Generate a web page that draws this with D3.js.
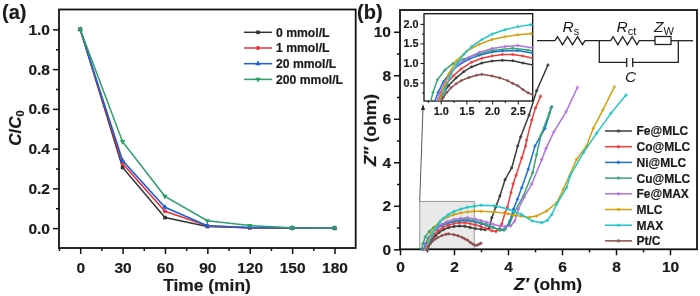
<!DOCTYPE html>
<html>
<head>
<meta charset="utf-8">
<script src="https://cdn.jsdelivr.net/npm/d3@7"></script>
<style>
  html, body { margin: 0; padding: 0; background: #fff; }
  svg { display: block; filter: blur(0.35px); }
  text { font-family: "Liberation Sans", Arial, sans-serif; font-weight: bold; fill: #1a1a1a; stroke: #1a1a1a; stroke-width: 0.2px; }
</style>
</head>
<body>
<svg id="chart" width="700" height="296"></svg>
<script>
// Panel (a): degradation curves
var times = [0, 30, 60, 90, 120, 150, 180];
var conc0 = [1, 0.305, 0.053, 0.008, 0.002, 0, 0];
var conc1 = [1, 0.325, 0.085, 0.012, 0.001, 0, 0];
var conc20 = [1, 0.34, 0.105, 0.012, 0.003, 0.001, 0];
var conc200 = [1, 0.435, 0.16, 0.037, 0.013, 0.002, 0];
var concLabels = ["0 mmol/L", "1 mmol/L", "20 mmol/L", "200 mmol/L"];
var concColors = ["#333333", "#ee2f3a", "#1562dc", "#2f9f68"];

// Panel (b): Nyquist curves, [Z', Z'']
var feMlc = [[0.98,0],[1.05,0.22],[1.15,0.42],[1.3,0.62],[1.45,0.78],[1.6,0.9],[1.8,1.0],[2,1.05],[2.2,1.07],[2.4,1.06],[2.6,1.0],[2.8,0.95],[3,0.92],[3.15,0.9],[3.3,0.95],[3.4,1.45],[3.55,1.95],[3.7,2.45],[3.89,3.2],[4.14,3.75],[4.36,4.75],[4.47,5.17],[4.78,6.17],[5.06,7.29],[5.48,8.47]];
var coMlc = [[0.95,0],[1.02,0.25],[1.12,0.48],[1.25,0.68],[1.4,0.85],[1.6,1.02],[1.8,1.12],[2,1.18],[2.2,1.22],[2.4,1.22],[2.6,1.18],[2.8,1.12],[3,1.05],[3.2,0.95],[3.4,0.85],[3.55,0.82],[3.68,0.92],[3.77,1.16],[3.89,1.68],[3.98,1.95],[4.11,2.6],[4.19,3.0],[4.3,3.4],[4.51,4.2],[4.65,4.75],[4.69,5.02],[4.88,5.94],[5.02,6.5],[5.21,7.04]];
var niMlc = [[0.88,0],[0.95,0.25],[1.05,0.52],[1.18,0.75],[1.35,0.95],[1.55,1.1],[1.75,1.2],[2,1.28],[2.2,1.31],[2.5,1.32],[2.8,1.25],[3,1.18],[3.2,1.1],[3.45,1.0],[3.7,0.9],[3.9,0.95],[4.07,1.3],[4.2,1.84],[4.35,2.3],[4.51,2.83],[4.75,3.68],[5.0,4.75],[5.37,5.56],[5.62,6.55]];
var cuMlc = [[0.8,0],[0.85,0.25],[0.935,0.57],[1.08,0.82],[1.24,0.99],[1.45,1.1],[1.7,1.22],[2,1.32],[2.4,1.38],[2.7,1.33],[3,1.22],[3.2,1.15],[3.45,1.0],[3.7,0.88],[3.85,0.88],[4.05,1.15],[4.25,1.75],[4.57,2.45],[4.91,3.52],[5.06,4.35],[5.22,5.25],[5.53,6.25],[5.59,6.5]];
var feMax = [[0.92,0],[0.98,0.22],[1.08,0.5],[1.2,0.75],[1.35,0.98],[1.55,1.15],[1.75,1.27],[2,1.37],[2.25,1.42],[2.5,1.45],[2.8,1.38],[3,1.32],[3.2,1.25],[3.45,1.15],[3.7,1.07],[3.9,1.05],[4.1,1.07],[4.25,1.3],[4.38,1.84],[4.6,2.4],[4.88,3.0],[5.25,4.13],[5.41,4.64],[5.7,5.4],[6.15,6.32],[6.57,7.44]];
var mlc = [[0.97,0],[1.05,0.35],[1.15,0.7],[1.3,1.05],[1.5,1.3],[1.75,1.48],[2,1.6],[2.25,1.67],[2.5,1.72],[2.75,1.75],[3,1.75],[3.5,1.72],[4,1.63],[4.25,1.57],[4.5,1.52],[4.8,1.47],[5.06,1.53],[5.43,1.76],[5.8,2.14],[6.05,2.76],[6.54,4.13],[6.91,4.75],[7.16,5.56],[7.51,6.4],[7.94,7.47]];
var max = [[1.0,0],[1.08,0.32],[1.18,0.65],[1.3,0.95],[1.45,1.22],[1.6,1.42],[1.8,1.6],[2,1.74],[2.25,1.85],[2.5,1.93],[2.75,1.98],[3,2.03],[3.5,2],[4,1.85],[4.5,1.6],[4.9,1.3],[5.25,1.22],[5.45,1.32],[5.62,1.6],[5.8,2.07],[6.17,2.83],[6.3,3.37],[6.79,4.44],[7.28,5.33],[7.81,6.25],[8.37,7.09]];
var ptC = [[1.0,0],[1.05,0.12],[1.12,0.25],[1.2,0.37],[1.3,0.47],[1.4,0.55],[1.55,0.63],[1.7,0.69],[1.8,0.71],[2,0.67],[2.15,0.62],[2.3,0.55],[2.4,0.48],[2.5,0.42],[2.6,0.32],[2.7,0.24],[2.8,0.18],[2.88,0.2],[2.95,0.25],[3,0.28]];
var nyquistLabels = ["Fe@MLC", "Co@MLC", "Ni@MLC", "Cu@MLC", "Fe@MAX", "MLC", "MAX", "Pt/C"];
var nyquistColors = ["#3a3a3a", "#ee3b3b", "#1c6fd2", "#37a56f", "#b071e0", "#d3a012", "#1fc6c8", "#8c4b4b"];

var svg = d3.select("#chart");
var ink = "#111";

// Draws the boxed frame, both axes with major and minor ticks.
function drawFrame(x, y, xMajor, xMinor, yMajor, yMinor, opts) {
  var left = x.range()[0], right = x.range()[1];
  var bottom = y.range()[0], top = y.range()[1];
  var fmtY = opts.fmtY;
  var g = svg.append("g");

  g.append("rect")
    .attr("x", left).attr("y", top)
    .attr("width", right - left).attr("height", bottom - top)
    .attr("fill", opts.fill || "none")
    .attr("stroke", ink).attr("stroke-width", opts.frame);

  var gxMinor = g.append("g").attr("transform", "translate(0," + bottom + ")")
    .call(d3.axisBottom(x).tickValues(xMinor).tickSize(opts.minor).tickFormat(""));
  var gx = g.append("g").attr("transform", "translate(0," + bottom + ")")
    .call(d3.axisBottom(x).tickValues(xMajor).tickSize(opts.major).tickPadding(opts.padX));
  var gyMinor = g.append("g").attr("transform", "translate(" + left + ",0)")
    .call(d3.axisLeft(y).tickValues(yMinor).tickSize(opts.minor).tickFormat(""));
  var gy = g.append("g").attr("transform", "translate(" + left + ",0)")
    .call(d3.axisLeft(y).tickValues(yMajor).tickSize(opts.major).tickPadding(opts.padY).tickFormat(fmtY));

  [gxMinor, gx, gyMinor, gy].forEach(function(a) {
    a.select(".domain").remove();
    a.selectAll("line").attr("stroke", ink).attr("stroke-width", opts.tick);
    a.selectAll("text").style("font-size", opts.font + "px").style("fill", "#1a1a1a");
  });
}

// ---------- panel (a) ----------
var xA = d3.scaleLinear().domain([-15, 195]).range([59, 355.7]);
var yA = d3.scaleLinear().domain([-0.1, 1.1]).range([248, 9.5]);
var lineA = d3.line()
  .x(function(d) { return xA(d.t); })
  .y(function(d) { return yA(d.c); });

drawFrame(xA, yA,
  [0, 30, 60, 90, 120, 150, 180],
  [-15, 15, 45, 75, 105, 135, 165],
  [0, 0.2, 0.4, 0.6, 0.8, 1.0],
  [0.1, 0.3, 0.5, 0.7, 0.9],
  {fmtY: d3.format(".1f"), frame: 1.8, tick: 1.5, major: 6, minor: 3, padX: 8, padY: 3, font: 15.5});

var concSeries = [conc0, conc1, conc20, conc200];
var concMarks = [d3.symbolSquare, d3.symbolCircle, d3.symbolTriangle, d3.symbolTriangle];
concSeries.forEach(function(vals, i) {
  var pts = vals.map(function(c, k) { return {t: times[k], c: c}; });
  svg.append("path").datum(pts)
    .attr("d", lineA).attr("fill", "none")
    .attr("stroke", concColors[i]).attr("stroke-width", 1.5);
  svg.append("g").selectAll("path").data(pts).join("path")
    .attr("d", d3.symbol().type(concMarks[i]).size(13))
    .attr("transform", function(d) {
      return "translate(" + xA(d.t) + "," + yA(d.c) + ")" + (i == 3 ? " rotate(180)" : "");
    })
    .attr("fill", concColors[i]);
  // legend
  var ly = 32.3 + i * 15.7;
  svg.append("line").attr("x1", 244).attr("x2", 272).attr("y1", ly).attr("y2", ly)
    .attr("stroke", concColors[i]).attr("stroke-width", 1.5);
  svg.append("path").attr("d", d3.symbol().type(concMarks[i]).size(13))
    .attr("transform", "translate(258," + ly + ")" + (i == 3 ? " rotate(180)" : ""))
    .attr("fill", concColors[i]);
  svg.append("text").attr("x", 276).attr("y", ly + 4.4)
    .style("font-size", "12.2px").text(concLabels[i]);
});

svg.append("text").attr("x", 2).attr("y", 18.5).style("font-size", "20px").text("(a)");
svg.append("text").attr("x", 207).attr("y", 291).attr("text-anchor", "middle")
  .style("font-size", "17.4px").text("Time (min)");
var titleA = svg.append("text").attr("transform", "translate(21,128) rotate(-90)")
  .attr("text-anchor", "middle").style("font-size", "17px");
titleA.append("tspan").style("font-style", "italic").text("C");
titleA.append("tspan").text("/");
titleA.append("tspan").style("font-style", "italic").text("C");
titleA.append("tspan").attr("dy", 3).style("font-size", "11px").text("0");

// ---------- panel (b) ----------
var xB = d3.scaleLinear().domain([0, 11]).range([400, 697]);
var yB = d3.scaleLinear().domain([0, 11]).range([249.3, 10]);
var xIn = d3.scaleLinear().domain([0.675, 2.79]).range([424, 532.7]);
var yIn = d3.scaleLinear().domain([0.03, 2.26]).range([101, 13.7]);
var nyquist = [feMlc, coMlc, niMlc, cuMlc, feMax, mlc, max, ptC];

// zoom region behind the curves
svg.append("rect")
  .attr("x", xB(0.73)).attr("y", yB(2.2))
  .attr("width", xB(2.75) - xB(0.73)).attr("height", yB(0) - yB(2.2))
  .attr("fill", "#e9e9e9").attr("stroke", "#999").attr("stroke-width", 1);

drawFrame(xB, yB,
  [0, 2, 4, 6, 8, 10],
  [1, 3, 5, 7, 9],
  [0, 2, 4, 6, 8, 10],
  [1, 3, 5, 7, 9],
  {fmtY: d3.format("d"), frame: 1.8, tick: 1.5, major: 6, minor: 3, padX: 6, padY: 3, font: 15.5});

function drawCurves(x, y, width, radius) {
  var line = d3.line()
    .x(function(d) { return x(d[0]); })
    .y(function(d) { return y(d[1]); });
  var g = svg.append("g");
  nyquist.forEach(function(pts, i) {
    g.append("path").datum(pts)
      .attr("d", line).attr("fill", "none")
      .attr("stroke", nyquistColors[i]).attr("stroke-width", width);
    g.append("g").selectAll("circle").data(pts).join("circle")
      .attr("cx", function(d) { return x(d[0]); })
      .attr("cy", function(d) { return y(d[1]); })
      .attr("r", radius)
      .attr("fill", nyquistColors[i]).attr("fill-opacity", 0.55)
      .attr("stroke", nyquistColors[i]).attr("stroke-width", 0.7);
  });
  return g;
}
drawCurves(xB, yB, 1.5, 1.2);

// arrow from the shaded region to the inset
svg.append("line")
  .attr("x1", xB(0.73)).attr("y1", yB(2.2))
  .attr("x2", 423).attr("y2", 108)
  .attr("stroke", "#555").attr("stroke-width", 1);
svg.append("path").attr("d", "M423,104 L421,110 L425,110 Z").attr("fill", "#222");

// inset
svg.append("clipPath").attr("id", "inset-clip").append("rect")
  .attr("x", 424).attr("y", 13.7).attr("width", 108.7).attr("height", 87.3);
drawFrame(xIn, yIn,
  [1.0, 1.5, 2.0, 2.5],
  [0.75, 1.25, 1.75, 2.25],
  [0.5, 1.0, 1.5, 2.0],
  [0.25, 0.75, 1.25, 1.75],
  {fmtY: d3.format(".1f"), frame: 1.3, tick: 1, major: 3.5, minor: 2, padX: 3, padY: 2, font: 10.8, fill: "#fff"});
drawCurves(xIn, yIn, 1.5, 1.1).attr("clip-path", "url(#inset-clip)");

// legend
nyquistLabels.forEach(function(name, i) {
  var ly = 131 + i * 15.7;
  svg.append("line").attr("x1", 605).attr("x2", 632).attr("y1", ly).attr("y2", ly)
    .attr("stroke", nyquistColors[i]).attr("stroke-width", 1.5);
  svg.append("circle").attr("cx", 618.5).attr("cy", ly).attr("r", 1.3)
    .attr("fill", nyquistColors[i]).attr("fill-opacity", 0.55)
    .attr("stroke", nyquistColors[i]).attr("stroke-width", 0.7);
  svg.append("text").attr("x", 636.5).attr("y", ly + 4.4)
    .style("font-size", "12px").text(name);
});

// equivalent circuit
var circuit = svg.append("g").attr("fill", "none").attr("stroke", "#222").attr("stroke-width", 1.3);
function resistor(x0, x1, yc) {
  var n = 6, step = (x1 - x0) / n, d = "M" + x0 + "," + yc;
  for (var i = 0; i < n; i++)
    d += " L" + (x0 + step * (i + 0.5)) + "," + (yc + (i % 2 ? 4 : -4));
  return d + " L" + x1 + "," + yc;
}
circuit.append("path").attr("d", "M537,40.7 H555 " + resistor(555, 585, 40.7) + " H610.7 " + resistor(610.7, 639.3, 40.7) + " H655");
circuit.append("rect").attr("x", 655).attr("y", 36.5).attr("width", 16).attr("height", 8);
circuit.append("path").attr("d", "M671,40.7 H693");
circuit.append("path").attr("d", "M599.3,40.7 V62.3 H626.7 M632.7,62.3 H678.3 V40.7");
circuit.append("path").attr("d", "M626.7,58 V67 M632.7,58 V67");

function circuitLabel(x, y, main, sub) {
  var t = svg.append("text").attr("x", x).attr("y", y)
    .style("font-size", "15.5px").style("font-weight", "normal").style("stroke", "none");
  t.append("tspan").style("font-style", "italic").text(main);
  if (sub)
    t.append("tspan").attr("dy", 3).style("font-size", "11px").text(sub);
}
circuitLabel(562.5, 32, "R", "s");
circuitLabel(616.5, 32, "R", "ct");
circuitLabel(654, 32, "Z", "W");
circuitLabel(625, 82, "C");

svg.append("text").attr("x", 357).attr("y", 18.5).style("font-size", "20px").text("(b)");
var titleBx = svg.append("text").attr("x", 548).attr("y", 290).attr("text-anchor", "middle").style("font-size", "17.4px");
titleBx.append("tspan").style("font-style", "italic").text("Z\u2032");
titleBx.append("tspan").text(" (ohm)");
var titleBy = svg.append("text").attr("transform", "translate(376,130) rotate(-90)").attr("text-anchor", "middle").style("font-size", "17.4px");
titleBy.append("tspan").style("font-style", "italic").text("Z\u2033");
titleBy.append("tspan").text(" (ohm)");
</script>
</body>
</html>
